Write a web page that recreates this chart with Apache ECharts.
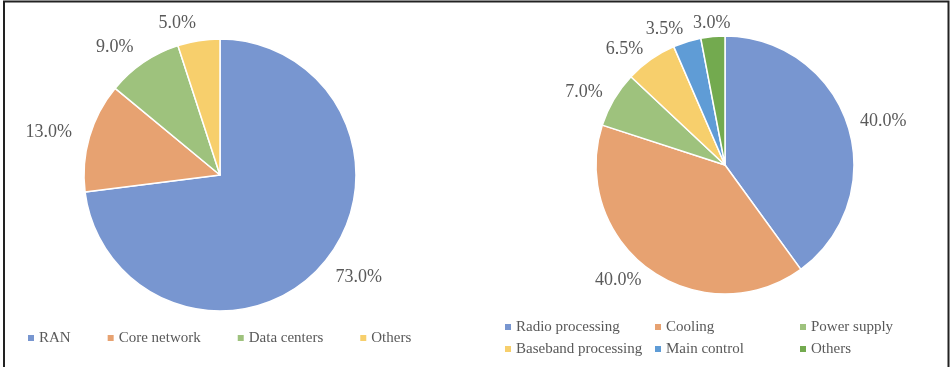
<!DOCTYPE html>
<html>
<head>
<meta charset="utf-8">
<script src="https://cdn.jsdelivr.net/npm/echarts@6/dist/echarts.min.js"></script>
<style>
  html, body { margin: 0; padding: 0; background: #fff; }
  #chart { width: 950px; height: 367px; }
</style>
</head>
<body>
<div id="chart"></div>
<script>
// Energy share of network parts (left) and of a base station (right), in %
const networkParts = ['RAN', 'Core network', 'Data centers', 'Others'];
const networkShares = [73.0, 13.0, 9.0, 5.0];
const networkColors = ['#7896d0', '#e7a271', '#9ec27d', '#f7cf6c'];

const stationParts = ['Radio processing', 'Cooling', 'Power supply', 'Baseband processing', 'Main control', 'Others'];
const stationShares = [40.0, 40.0, 7.0, 6.5, 3.5, 3.0];
const stationColors = ['#7896d0', '#e7a271', '#9ec27d', '#f7cf6c', '#5f9cd6', '#73aa4f'];

const FONT = '"Liberation Serif", "DejaVu Serif", serif';
const TEXT = '#595959';

function pieData(names, values, colors) {
  return names.map((n, i) => ({ name: n, value: values[i], itemStyle: { color: colors[i] } }));
}

function pieSeries(names, values, colors, center, radius, lineLen) {
  return {
    type: 'pie',
    center: center,
    radius: radius,
    startAngle: 90,
    clockwise: true,
    avoidLabelOverlap: false,
    data: pieData(names, values, colors),
    itemStyle: { borderColor: '#ffffff', borderWidth: 1.5 },
    label: {
      show: true,
      position: 'outside',
      distanceToLabelLine: 0,
      color: TEXT,
      fontFamily: FONT,
      fontSize: 18,
      formatter: p => p.value.toFixed(1) + '%'
    },
    labelLine: { show: false, length: lineLen, length2: 0 },
    emphasis: { disabled: true }
  };
}

function legendFor(names, colors, left, top, orient) {
  return {
    orient: orient,
    left: left,
    top: top,
    padding: 0,
    itemWidth: 6,
    itemHeight: 6,
    itemGap: orient === 'vertical' ? 7 : 37,
    icon: 'rect',
    selectedMode: false,
    itemStyle: { borderWidth: 0 },
    textStyle: { color: TEXT, fontFamily: FONT, fontSize: 15 },
    data: names.map((n, i) => ({ name: n, itemStyle: { color: colors[i], borderWidth: 0 } }))
  };
}

const leftSeries = pieSeries(networkParts, networkShares, networkColors, [220, 175], 136, 18);
const rightSeries = pieSeries(stationParts, stationShares, stationColors, [725, 165], 129, 13);
// the smallest slice sits at the top, so its label is centred over its line end
rightSeries.labelLayout = p => (p.dataIndex === stationParts.length - 1 ? { align: 'center' } : {});

const col = (idx) => idx.map(i => stationParts[i]);
const colColors = (idx) => idx.map(i => stationColors[i]);

const chart = echarts.init(document.getElementById('chart'), null, { renderer: 'canvas' });
chart.setOption({
  animation: false,
  backgroundColor: '#ffffff',
  legend: [
    legendFor(networkParts, networkColors, 28, 330.5, 'horizontal'),
    legendFor(col([0, 3]), colColors([0, 3]), 505, 319.5, 'vertical'),
    legendFor(col([1, 4]), colColors([1, 4]), 655, 319.5, 'vertical'),
    legendFor(col([2, 5]), colColors([2, 5]), 800, 319.5, 'vertical')
  ],
  graphic: [{
    type: 'polyline',
    shape: { points: [[4, 370], [4, 1.5], [948.5, 1.5], [948.5, 370]] },
    style: { stroke: '#222222', lineWidth: 2, fill: null },
    silent: true
  }],
  series: [leftSeries, rightSeries]
});
</script>
</body>
</html>
